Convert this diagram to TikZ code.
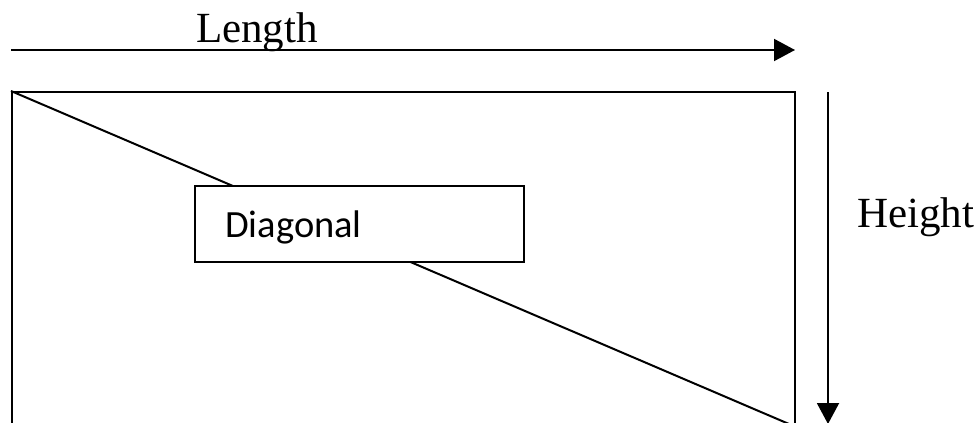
\documentclass[tikz,border=0pt]{standalone}
\usepackage{fontspec}
\setmainfont{Liberation Serif}
\newfontfamily\boxfont{Carlito}
\usetikzlibrary{arrows.meta}
\tikzset{
  edge/.style={line width=2pt, draw=black},
  arr/.style={line width=2pt, -{Triangle[length=21pt,width=22pt]}},
  lbl/.style={font=\fontsize{43}{48}\selectfont, inner sep=0pt},
}
\begin{document}
\begin{tikzpicture}[x=1pt,y=-1pt]
\useasboundingbox (0,0) rectangle (980,423);
\clip (0,0) rectangle (980,423);
\node[edge, draw, minimum width=783pt, minimum height=334pt, inner sep=0pt, anchor=north west] (rect) at (11,91) {};
\draw[edge] (rect.north west) -- (rect.south east);
\node[edge, draw, fill=white, minimum width=329pt, minimum height=76pt, inner sep=0pt, anchor=north west] (diag) at (194,185) {};
\node[font=\boxfont\fontsize{38.5}{44}\selectfont, inner sep=0pt, anchor=base west] (diagtxt) at (225,237) {Diagonal};
\coordinate (lstart) at (11,50);
\coordinate (lend) at (795,50);
\draw[arr] (lstart) -- (lend);
\node[lbl, anchor=base] (length) at (257,42) {Length};
\coordinate (hstart) at (828,92);
\coordinate (hend) at (828,424);
\draw[arr] (hstart) -- (hend);
\node[lbl, anchor=base west] (height) at (857,227) {Height};
\end{tikzpicture}
\end{document}
